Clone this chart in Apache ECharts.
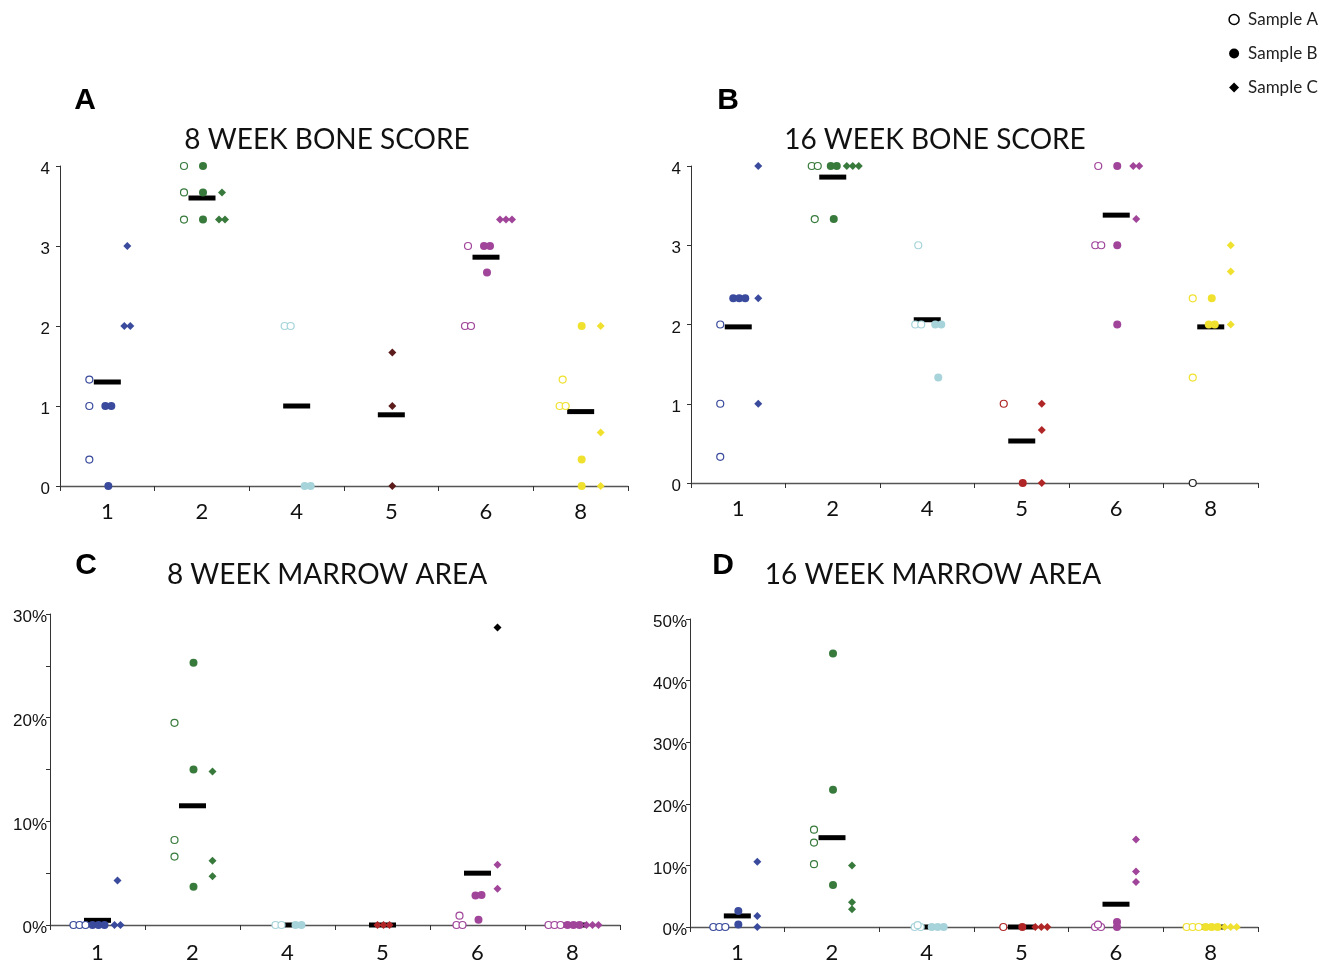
<!DOCTYPE html>
<html><head><meta charset="utf-8">
<script src="https://cdn.jsdelivr.net/npm/echarts@6/dist/echarts.min.js"></script>
<style>html,body{margin:0;padding:0;background:#fff}#c{width:1323px;height:964px}</style>
</head><body><div id="c"></div>
<script>
// ---------- DATA ----------
const groups = ['1', '2', '4', '5', '6', '8'];
const sampleNames = ['Sample A', 'Sample B', 'Sample C'];

// Panel A: 8 week bone score (values per group)
const bone8_A = [[1.33, 1, 0.33], [4, 3.67, 3.33], [2, 2], [], [3, 2, 2], [1.33, 1, 1]];
const bone8_B = [[1, 1, 0], [4, 3.67, 3.33], [0, 0], [], [3, 3, 2.67], [2, 0.33, 0]];
const bone8_C = [[3, 2, 2], [3.67, 3.33, 3.33], [], [1.67, 1, 0], [3.33, 3.33, 3.33], [2, 0.67, 0]];
const bone8_mean = [1.30, 3.60, 1.00, 0.89, 2.86, 0.93];

// Panel B: 16 week bone score
const bone16_A = [[2, 1, 0.33], [4, 4, 3.33], [3, 2, 2], [1], [4, 3, 3], [2.33, 1.33, 0]];
const bone16_B = [[2.33, 2.33, 2.33], [4, 4, 3.33], [2, 2, 1.33], [0], [4, 3, 2], [2.33, 2, 2]];
const bone16_C = [[4, 2.33, 1], [4, 4, 4], [], [1, 0.67, 0], [4, 4, 3.33], [3, 2.67, 2]];
const bone16_mean = [1.97, 3.86, 2.06, 0.53, 3.38, 1.97];

// Panel C: 8 week marrow area (%)
const marrow8_A = [[0, 0, 0], [19.5, 8.2, 6.6], [0, 0], [], [0.9, 0, 0], [0, 0, 0]];
const marrow8_B = [[0, 0, 0], [25.3, 15.0, 3.7], [0, 0], [], [2.9, 2.85, 0.5], [0, 0, 0]];
const marrow8_C = [[4.3, 0, 0], [14.8, 6.2, 4.7], [], [0, 0, 0], [28.7, 5.8, 3.5], [0, 0, 0]];
const marrow8_mean = [0.45, 11.5, 0, 0, 5.0, 0];

// Panel D: 16 week marrow area (%)
const marrow16_A = [[0, 0, 0], [15.8, 13.7, 10.2], [0.3, 0, 0], [0], [0.4, 0, 0], [0, 0, 0]];
const marrow16_B = [[2.6, 0.4], [44.4, 22.3, 6.8], [0, 0, 0], [0], [0.8, 0], [0, 0, 0]];
const marrow16_C = [[10.6, 1.8, 0], [10.0, 4.0, 2.9], [], [0, 0, 0], [14.2, 9.0, 7.3], [0, 0, 0]];
const marrow16_mean = [1.8, 14.5, 0, 0, 3.7, 0];

// Group colours per panel
const colorsBone8 = ['#3a4a9c', '#387a3c', '#a6d4da', '#5c1c1c', '#a0459a', '#f0e12f'];
const colorsBone16 = ['#3a4a9c', '#387a3c', '#a6d4da', '#b02626', '#a0459a', '#f0e12f'];
const colorsMarrow8 = ['#3a4a9c', '#387a3c', '#a6d4da', '#b02626', '#a0459a', '#a0459a'];
const colorsMarrow16 = ['#3a4a9c', '#387a3c', '#a6d4da', '#b02626', '#a0459a', '#f0e12f'];

// Individual points drawn in a different colour
const colorOverrides = [
  { panel: 1, group: 5, sample: 0, value: 0, color: '#222222' },
  { panel: 2, group: 4, sample: 2, value: 28.7, color: '#000000' }
];

// ---------- LAYOUT ----------
const panels = [
  { letter: 'A', title: '8 WEEK BONE SCORE', sets: [bone8_A, bone8_B, bone8_C], mean: bone8_mean, colors: colorsBone8,
    ymax: 4, interval: 1, pct: false, grid: { left: 60, top: 166, width: 568, height: 320 },
    letterPos: [85, 101], titlePos: [327, 140], xMargin: 15 },
  { letter: 'B', title: '16 WEEK BONE SCORE', sets: [bone16_A, bone16_B, bone16_C], mean: bone16_mean, colors: colorsBone16,
    ymax: 4, interval: 1, pct: false, grid: { left: 691, top: 166, width: 567, height: 317 },
    letterPos: [728, 101], titlePos: [935, 140], xMargin: 15 },
  { letter: 'C', title: '8 WEEK MARROW AREA', sets: [marrow8_A, marrow8_B, marrow8_C], mean: marrow8_mean, colors: colorsMarrow8,
    ymax: 30, interval: 5, pct: true, labelEvery: 10, grid: { left: 50, top: 614, width: 570, height: 313 },
    letterPos: [86, 566], titlePos: [327, 575], xMargin: 17 },
  { letter: 'D', title: '16 WEEK MARROW AREA', sets: [marrow16_A, marrow16_B, marrow16_C], mean: marrow16_mean, colors: colorsMarrow16,
    ymax: 50, interval: 10, pct: true, labelEvery: 10, grid: { left: 690, top: 619, width: 568, height: 310 },
    letterPos: [723, 566], titlePos: [933, 575], xMargin: 15 }
];

const SPACING = 6;

function sampleOffsets(p, g) {
  const present = [0, 1, 2].filter(s => p.sets[s][g].length > 0);
  const key = present.join('');
  if (key === '01') return [-9, 11, 0];
  if (key === '2') return [0, 0, 1];
  return [-18, 1, 20];
}

function overrideColor(pi, g, s, v) {
  const o = colorOverrides.find(o => o.panel === pi && o.group === g && o.sample === s && o.value === v);
  return o ? o.color : null;
}

function pointItems(p, pi, s) {
  const eps = p.ymax * 0.005;
  const out = [];
  p.sets[s].forEach((vals, g) => {
    if (!vals.length) return;
    const base = sampleOffsets(p, g)[s];
    const sorted = vals.slice().sort((a, b) => a - b);
    const clusters = [];
    sorted.forEach(v => {
      const last = clusters[clusters.length - 1];
      if (last && Math.abs(v - last[last.length - 1]) <= eps) last.push(v); else clusters.push([v]);
    });
    clusters.forEach(cl => cl.forEach((v, k) => {
      const col = overrideColor(pi, g, s, v) || p.colors[g];
      const dx = base + (k - (cl.length - 1) / 2) * SPACING;
      const style = s === 0 ? { color: '#ffffff', borderColor: col, borderWidth: 1.2, opacity: 1 } : { color: col, opacity: 1 };
      out.push({ value: [g, v], symbolOffset: [dx, 0], itemStyle: style });
    }));
  });
  return out;
}

const grid = [], xAxis = [], yAxis = [], series = [], graphic = [];
panels.forEach((p, i) => {
  grid.push(Object.assign({ containLabel: false }, p.grid));
  xAxis.push({
    gridIndex: i, type: 'category', data: groups, boundaryGap: true,
    axisLine: { lineStyle: { color: '#555', width: 1.3 } },
    axisTick: { show: true, length: 5, lineStyle: { color: '#333' } },
    axisLabel: { margin: p.xMargin, fontFamily: 'Lato', fontSize: 22, color: '#111' },
    splitLine: { show: false }
  });
  yAxis.push({
    gridIndex: i, type: 'value', min: 0, max: p.ymax, interval: p.interval,
    axisLine: { show: true, lineStyle: { color: '#333', width: 1 } },
    axisTick: { show: true, length: 4, lineStyle: { color: '#333' } },
    splitLine: { show: false },
    axisLabel: {
      margin: p.pct ? 3 : 10, fontFamily: 'Liberation Sans', fontSize: 17, color: '#111',
      verticalAlign: 'top', lineHeight: 7,
      formatter: v => p.pct ? (v % p.labelEvery === 0 ? v + '%' : '') : String(v)
    }
  });
  series.push({
    name: 'Mean', type: 'scatter', xAxisIndex: i, yAxisIndex: i, symbol: 'rect', symbolSize: [27, 5],
    itemStyle: { color: '#000', opacity: 1 }, z: 2, silent: true,
    data: p.mean.map((m, g) => ({ value: [g, m] }))
  });
  [0, 1, 2].forEach(s => {
    series.push({
      name: sampleNames[s], type: 'scatter', xAxisIndex: i, yAxisIndex: i,
      symbol: s === 2 ? 'diamond' : 'circle', symbolSize: s === 0 ? 7 : 8, z: 3, silent: true,
      itemStyle: { opacity: 1 },
      data: pointItems(p, i, s)
    });
  });
  graphic.push({ type: 'text', x: p.letterPos[0], y: p.letterPos[1],
    style: { text: p.letter, font: 'bold 30px "Liberation Sans"', fill: '#000', textAlign: 'center', textVerticalAlign: 'middle' } });
  graphic.push({ type: 'text', x: p.titlePos[0], y: p.titlePos[1],
    style: { text: p.title, font: '28px Lato', fill: '#111', textAlign: 'center', textVerticalAlign: 'middle' } });
});

const chart = echarts.init(document.getElementById('c'));
chart.setOption({
  animation: false,
  backgroundColor: '#ffffff',
  grid, xAxis, yAxis, series, graphic,
  legend: {
    orient: 'vertical', right: 0, top: 6, itemGap: 17, itemWidth: 10, itemHeight: 10,
    textStyle: { fontFamily: 'Lato', fontSize: 17, color: '#222', padding: [0, 0, 0, 4] },
    data: [
      { name: 'Sample A', icon: 'circle', itemStyle: { color: '#fff', borderColor: '#000', borderWidth: 1.5 } },
      { name: 'Sample B', icon: 'circle', itemStyle: { color: '#000' } },
      { name: 'Sample C', icon: 'diamond', itemStyle: { color: '#000' } }
    ]
  }
});
</script></body></html>
